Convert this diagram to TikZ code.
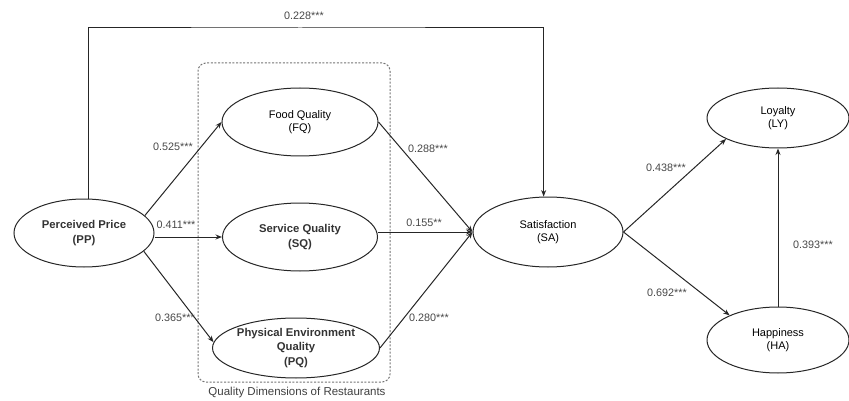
\documentclass[tikz,border=0pt]{standalone}
\usepackage{fontspec}
\setmainfont{Liberation Sans}
\usetikzlibrary{shapes.geometric,arrows.meta}

\begin{document}
\begin{tikzpicture}[x=1pt,y=-1pt,
  construct/.style={draw=black!85, line width=1pt, ellipse, inner sep=0pt,
    align=center, font=\fontsize{11}{13}\selectfont, text=black},
  boldconstruct/.style={construct, font=\fontsize{11.3}{14.5}\selectfont\bfseries, text=black!80},
  path arrow/.style={draw=black!85, line width=1pt,
    -{Stealth[length=6.5pt,width=5pt]}},
  coef/.style={font=\fontsize{10.8}{12}\selectfont, text=black!72, inner sep=0pt},
  groupbox/.style={draw=black!55, line width=1pt, dash pattern=on 2pt off 1.6pt,
    rounded corners=8pt}
]
\useasboundingbox (0,0) rectangle (849,401);

% constructs
\node[boldconstruct, minimum width=140pt, minimum height=68pt] (PP) at (84,233) {Perceived Price\\(PP)};
\node[construct, minimum width=156pt, minimum height=68pt] (FQ) at (300,122) {Food Quality\\(FQ)};
\node[boldconstruct, minimum width=155pt, minimum height=68pt] (SQ) at (300,237) {Service Quality\\(SQ)};
\node[boldconstruct, minimum width=158pt, minimum height=60pt] (PQ) at (296,348) {Physical Environment\\Quality\\(PQ)};
\node[construct, minimum width=150pt, minimum height=70pt] (SA) at (548,232) {Satisfaction\\(SA)};
\node[construct, minimum width=142pt, minimum height=60pt] (LY) at (778,118) {Loyalty\\(LY)};
\node[construct, minimum width=142pt, minimum height=66pt] (HA) at (778,340) {Happiness\\(HA)};

% grouping of the quality dimensions
\node[groupbox, minimum width=192pt, minimum height=319pt] (QD) at (294,222.5) {};
\node[font=\fontsize{11.5}{13}\selectfont, text=black!75] (QDlabel) at (297,393) {Quality Dimensions of Restaurants};

% direct path over the top
\coordinate (topbar) at (300,28);
\draw[path arrow] (PP.82) |- (topbar) -| (SA.97);
\node[coef] (c228) at (304,16) {0.228***};

% price -> quality dimensions
\draw[path arrow] (PP.16) -- (FQ.west);
\draw[path arrow] (PP.east |- SQ.west) -- (SQ.west);
\draw[path arrow] (PP.-17) -- (PQ.176);
\node[coef] (c525) at (173,147) {0.525***};
\node[coef] (c411) at (176,225) {0.411***};
\node[coef] (c365) at (175,318) {0.365***};

% quality dimensions -> satisfaction
\draw[path arrow] (FQ.east) -- (SA.west);
\draw[path arrow] (SQ.east |- SA.west) -- (SA.west);
\draw[path arrow] (PQ.east) -- (SA.west);
\node[coef] (c288) at (428,149) {0.288***};
\node[coef] (c155) at (424,223) {0.155**};
\node[coef] (c280) at (429,318) {0.280***};

% satisfaction -> outcomes
\draw[path arrow] (SA.east) -- (LY.202);
\draw[path arrow] (SA.east) -- (HA.153);
\draw[path arrow] (HA.north) -- (LY.south);
\node[coef] (c438) at (666,168) {0.438***};
\node[coef] (c692) at (667,293) {0.692***};
\node[coef] (c393) at (813,245) {0.393***};
\end{tikzpicture}
\end{document}
